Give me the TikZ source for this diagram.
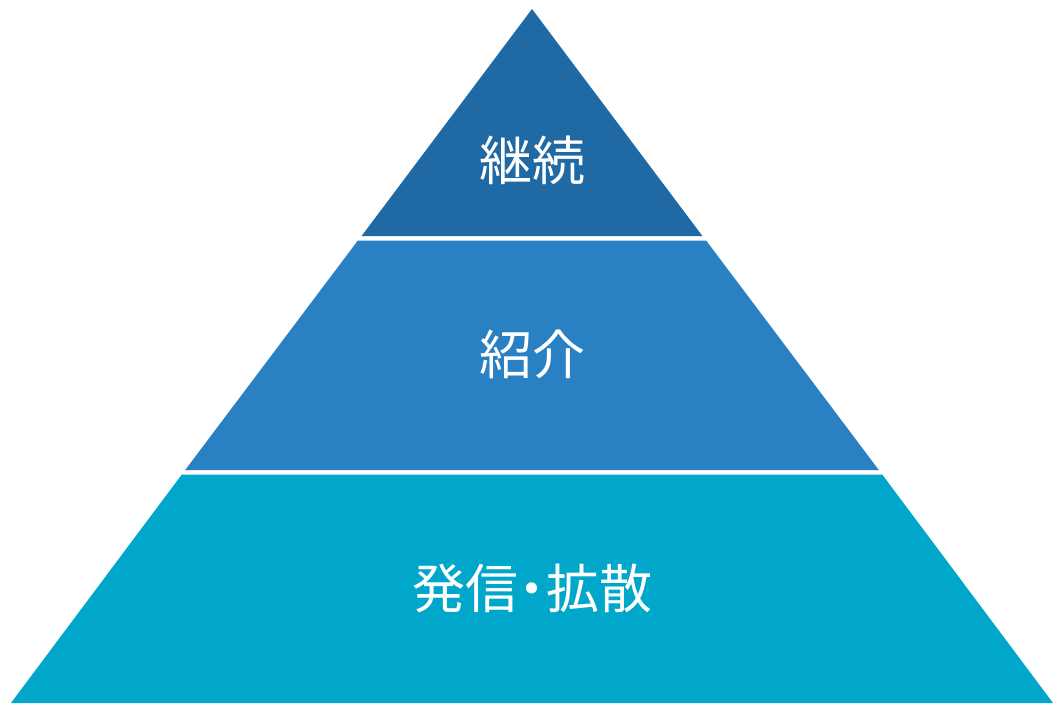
\documentclass[tikz,border=0pt]{standalone}
\usepackage{fontspec}
\newfontfamily\jpfont{Noto Sans CJK JP}
\definecolor{ctop}{RGB}{31,106,164}
\definecolor{cmid}{RGB}{41,128,194}
\definecolor{cbot}{RGB}{1,166,203}
\tikzset{
  layer/.style={draw=none},
  lbl/.style={text=white,font=\jpfont\fontsize{53}{58}\selectfont,inner sep=0pt}
}
\begin{document}
\begin{tikzpicture}[x=1pt,y=-1pt]
\useasboundingbox[fill=white] (0,0) rectangle (1064,709);
% apex (532,9), base y=703 from 11 to 1053; slope 0.7507
\fill[ctop,layer] (532,9) -- (702.4,236) -- (361.6,236) -- cycle;
\fill[cmid,layer] (357.9,240.5) -- (706.1,240.5) -- (878.8,470) -- (185.2,470) -- cycle;
\fill[cbot,layer] (181.8,474.5) -- (882.2,474.5) -- (1053,703) -- (11,703) -- cycle;
\node[lbl] (t1) at (532,160) {継続};
\node[lbl] (t2) at (532,354) {紹介};
\node[lbl] (t3) at (532,588) {発信\makebox[28pt]{・}拡散};
\end{tikzpicture}
\end{document}
